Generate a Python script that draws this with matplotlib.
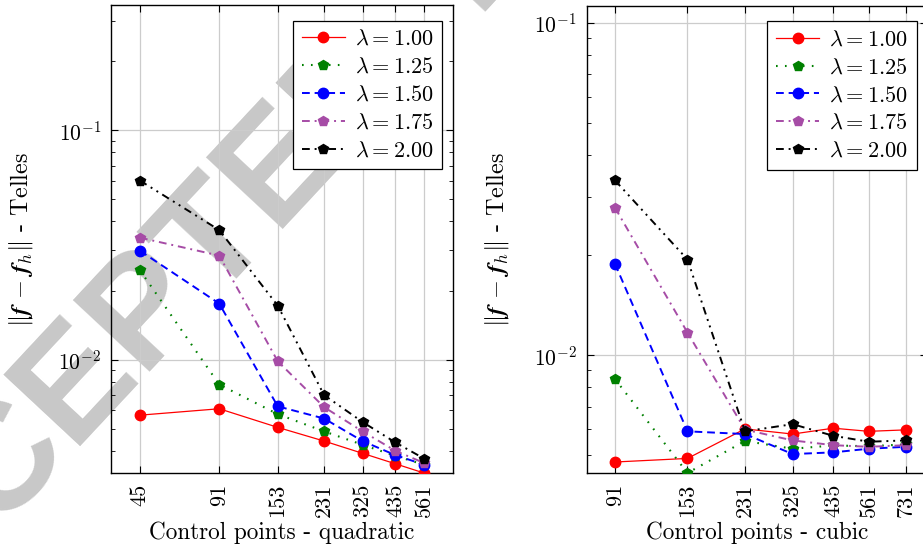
import numpy as np
import matplotlib.pyplot as plt
from matplotlib.ticker import FixedLocator, FixedFormatter, NullLocator, LogLocator, NullFormatter
from matplotlib.mathtext import MathTextParser

plt.rcParams['font.family'] = 'serif'
plt.rcParams['font.serif'] = ['cmr10']
plt.rcParams['mathtext.fontset'] = 'cm'
plt.rcParams['axes.unicode_minus'] = False
plt.rcParams['axes.formatter.use_mathtext'] = True

# data
quad_pts = [45, 91, 153, 231, 325, 435, 561]
quad_100 = [0.00572, 0.00610, 0.00506, 0.00441, 0.00390, 0.00351, 0.00320]
quad_125 = [0.0245, 0.00778, 0.00578, 0.00486, 0.00425, 0.00380, 0.00348]
quad_150 = [0.0298, 0.01754, 0.00625, 0.00553, 0.00441, 0.00383, 0.00348]
quad_175 = [0.0340, 0.0284, 0.00983, 0.00620, 0.00486, 0.00400, 0.00354]
quad_200 = [0.0603, 0.0367, 0.01718, 0.00700, 0.00534, 0.00435, 0.00370]

cubic_pts = [91, 153, 231, 325, 435, 561, 731]
cubic_100 = [0.00477, 0.00489, 0.00600, 0.00579, 0.00603, 0.00590, 0.00596]
cubic_125 = [0.00848, 0.00442, 0.00552, 0.00523, 0.00535, 0.00532, 0.00539]
cubic_150 = [0.01884, 0.00590, 0.00579, 0.00504, 0.00510, 0.00523, 0.00530]
cubic_175 = [0.0278, 0.01170, 0.00597, 0.00554, 0.00536, 0.00530, 0.00536]
cubic_200 = [0.0336, 0.01941, 0.00590, 0.00620, 0.00572, 0.00549, 0.00554]

labels = [r'$\lambda = 1.00$', r'$\lambda = 1.25$', r'$\lambda = 1.50$',
          r'$\lambda = 1.75$', r'$\lambda = 2.00$']
colors = ['#ff0000', '#008000', '#0000ff', '#a64ca6', '#000000']
markers = ['o', 'p', 'o', 'p', 'p']
styles = ['-', (0, (0.8, 3.5)), (0, (4, 2.5)), (0, (4, 2.5, 1, 2.5)),
          (0, (4, 2.5, 1, 2.5, 1, 2.5))]
widths = [0.9, 1.5, 1.4, 1.4, 1.4]

# bold italic f if mathtext knows \boldsymbol, else plain bold
ylab = r'$\Vert\boldsymbol{f}\,-\,\boldsymbol{f}_h\Vert$ - Telles'
try:
    MathTextParser('agg').parse(ylab, dpi=100)
except Exception:
    ylab = r'$\Vert\mathbf{f}\,-\,\mathbf{f}_h\Vert$ - Telles'

fig = plt.figure(figsize=(9.23, 5.45), dpi=100)
ax1 = fig.add_axes([0.1203, 0.1321, 0.3705, 0.8584])
ax2 = fig.add_axes([0.6356, 0.1321, 0.3687, 0.8574])

def setup(ax, pts, series, xlim, ylim, xlabel, legx):
    for i in range(len(series)):
        ax.plot(pts, series[i], color=colors[i], marker=markers[i], ms=7.5,
                ls=styles[i], lw=widths[i], label=labels[i], zorder=3)
    ax.set_xscale('log')
    ax.set_yscale('log')
    ax.set_xlim(xlim)
    ax.set_ylim(ylim)
    ax.xaxis.set_major_locator(FixedLocator(pts))
    ax.xaxis.set_major_formatter(FixedFormatter([str(p) for p in pts]))
    ax.xaxis.set_minor_locator(NullLocator())
    ax.yaxis.set_major_locator(LogLocator(base=10))
    ax.yaxis.set_minor_locator(LogLocator(base=10, subs=range(2, 10)))
    ax.yaxis.set_minor_formatter(NullFormatter())
    ax.tick_params(axis='x', which='major', direction='in', top=True,
                   labelrotation=90, labelsize=16, pad=8, length=5)
    ax.tick_params(axis='y', which='both', direction='in', right=True,
                   labelsize=15.5, pad=7)
    ax.tick_params(axis='y', which='major', length=5)
    ax.tick_params(axis='y', which='minor', length=3)
    ax.grid(True, which='major', color='#cccccc', lw=0.9)
    for s in ax.spines.values():
        s.set_linewidth(1.0)
    ax.set_xlabel(xlabel, fontsize=16.7, labelpad=3)
    ax.set_ylabel(ylab, fontsize=17.5)
    ax.yaxis.set_label_coords(-0.222, 0.5)
    leg = ax.legend(loc='upper right', bbox_to_anchor=(legx, 0.967), borderaxespad=0,
                    fontsize=16, handlelength=1.95, handletextpad=0.45,
                    borderpad=0.4, labelspacing=0.37, fancybox=False,
                    edgecolor='black', framealpha=1)
    leg.get_frame().set_linewidth(0.9)
    leg.set_zorder(5)

setup(ax1, quad_pts, [quad_100, quad_125, quad_150, quad_175, quad_200],
      (34.8, 726), (0.0032, 0.351), 'Control points - quadratic', 0.969)
setup(ax2, cubic_pts, [cubic_100, cubic_125, cubic_150, cubic_175, cubic_200],
      (74.3, 851), (0.00442, 0.1127), 'Control points - cubic', 0.97)

# watermark of the source pdf
ax1.text(0.523, 1.077, 'ACCEPTED  MANUSCRIPT', transform=fig.transFigure,
         rotation=47, rotation_mode='anchor', ha='center', va='center',
         fontsize=110, fontweight='bold', family='Liberation Sans',
         color='#c8c8c8', zorder=1.2, clip_on=False)

fig.savefig('out.png', dpi=100)
